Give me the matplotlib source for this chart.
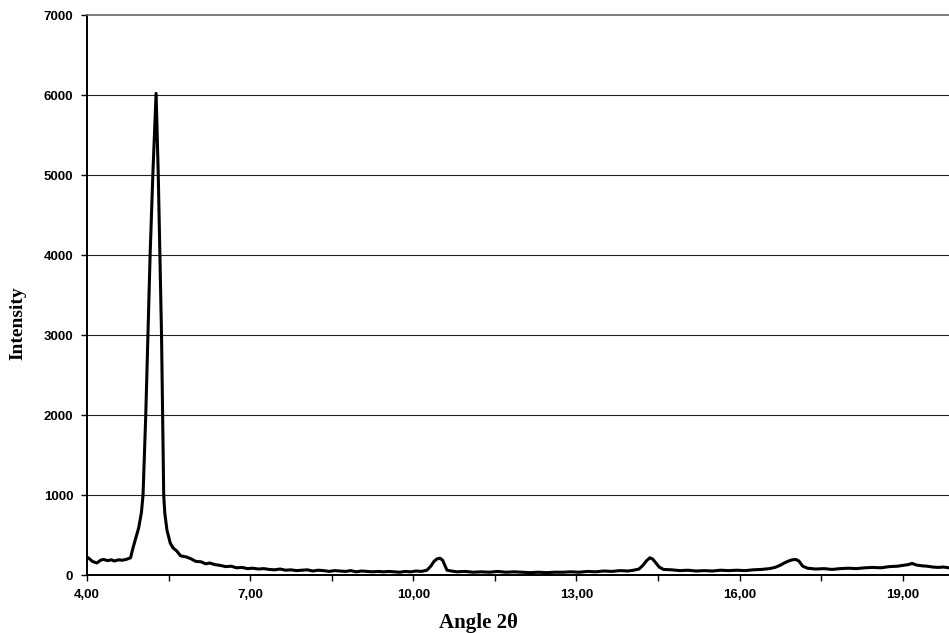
import matplotlib
matplotlib.use("Agg")
import matplotlib.pyplot as plt
from matplotlib.ticker import FixedLocator, FuncFormatter

# diffraction trace (angle 2theta, intensity)
angle = [4.00, 4.05, 4.10, 4.18, 4.25, 4.30, 4.38, 4.45, 4.50, 4.58, 4.65, 4.72,
         4.80, 4.85, 4.90, 4.95, 5.00, 5.03, 5.08, 5.12, 5.16, 5.21, 5.25, 5.27,
         5.29, 5.31, 5.34, 5.37, 5.39, 5.41, 5.43, 5.47, 5.53, 5.58, 5.65, 5.72,
         5.83, 5.92, 6.00, 6.10, 6.18, 6.26, 6.35, 6.45, 6.55, 6.65, 6.75, 6.85,
         6.95, 7.05, 7.15, 7.25, 7.35, 7.45, 7.55, 7.65, 7.75, 7.85, 7.95, 8.05,
         8.15, 8.25, 8.35, 8.45, 8.55, 8.65, 8.75, 8.85, 8.95, 9.05, 9.15, 9.25,
         9.35, 9.45, 9.55, 9.65, 9.75, 9.85, 9.95, 10.05, 10.15, 10.25, 10.32, 10.38,
         10.43, 10.49, 10.54, 10.58, 10.62, 10.70, 10.80, 10.95, 11.10, 11.25, 11.40,
         11.55, 11.70, 11.85, 12.00, 12.15, 12.30, 12.45, 12.60, 12.75, 12.90, 13.05,
         13.20, 13.35, 13.50, 13.65, 13.80, 13.95, 14.05, 14.15, 14.22, 14.29, 14.35,
         14.40, 14.45, 14.52, 14.60, 14.75, 14.90, 15.05, 15.20, 15.35, 15.50, 15.65,
         15.80, 15.95, 16.10, 16.25, 16.40, 16.55, 16.65, 16.74, 16.82, 16.90, 16.97,
         17.03, 17.09, 17.16, 17.25, 17.40, 17.55, 17.70, 17.85, 18.00, 18.15, 18.30,
         18.45, 18.60, 18.75, 18.90, 19.00, 19.10, 19.17, 19.25, 19.35, 19.45, 19.55,
         19.65, 19.75, 19.85]
intensity = [225, 200, 170, 150, 185, 195, 180, 190, 175, 190, 185, 195,
             215, 350, 470, 590, 780, 1000, 2000, 3000, 4000, 5000, 5700, 6020,
             5500, 5000, 4000, 3000, 2000, 1000, 775, 560, 400, 340, 300, 240,
             225, 200, 170, 165, 140, 150, 130, 120, 105, 110, 90, 95,
             80, 85, 75, 80, 70, 65, 75, 60, 65, 55, 60, 65,
             50, 60, 55, 45, 55, 50, 45, 55, 40, 50, 45, 40,
             45, 40, 45, 40, 35, 45, 40, 50, 45, 60, 110, 170,
             200, 210, 185, 120, 60, 50, 40, 45, 35, 40, 35,
             45, 35, 40, 35, 30, 35, 30, 35, 35, 40, 35,
             45, 40, 50, 45, 55, 50, 60, 75, 120, 180, 215,
             200, 160, 100, 70, 65, 55, 60, 50, 55, 50, 60,
             55, 60, 55, 65, 70, 80, 95, 120, 150, 175, 190,
             195, 175, 110, 85, 75, 80, 70, 80, 85, 80, 90,
             95, 90, 105, 110, 120, 130, 145, 125, 115, 110, 100,
             95, 100, 90]

y_ticks = [0, 1000, 2000, 3000, 4000, 5000, 6000, 7000]
x_major = [4, 7, 10, 13, 16, 19]
x_minor = [5.5, 8.5, 11.5, 14.5, 17.5]

fig = plt.figure(figsize=(9.49, 6.33), dpi=100)
ax = fig.add_axes([0.0917, 0.0916, 0.9083, 0.8847])

for v in y_ticks[1:-1]:
    ax.axhline(v, color="#222222", lw=0.8, zorder=1)

ax.plot(angle, intensity, color="black", lw=2.2, zorder=3)

ax.set_xlim(4, 19.85)
ax.set_ylim(0, 7000)
ax.set_yticks(y_ticks)
ax.xaxis.set_major_locator(FixedLocator(x_major))
ax.xaxis.set_minor_locator(FixedLocator(x_minor))
ax.xaxis.set_major_formatter(FuncFormatter(lambda v, p: ("%.2f" % v).replace(".", ",")))

ax.spines["right"].set_visible(False)
ax.spines["top"].set_color("#666666")
ax.spines["top"].set_linestyle((0, (1, 1)))
ax.spines["top"].set_linewidth(1.2)
ax.spines["left"].set_linewidth(1.4)
ax.spines["bottom"].set_linewidth(1.4)

ax.tick_params(axis="both", which="both", direction="out", length=4, width=1,
               labelsize=9.5, pad=6)
for lab in ax.get_xticklabels() + ax.get_yticklabels():
    lab.set_family("Liberation Sans")
    lab.set_weight("bold")

ax.set_ylabel("Intensity", family="Liberation Serif", weight="bold", fontsize=14)
ax.set_xlabel("Angle 2θ", family="Liberation Serif", weight="bold", fontsize=15)
ax.yaxis.set_label_coords(-0.07, 0.45)
ax.xaxis.set_label_coords(0.454, -0.068)

fig.savefig("out.png", dpi=100)
